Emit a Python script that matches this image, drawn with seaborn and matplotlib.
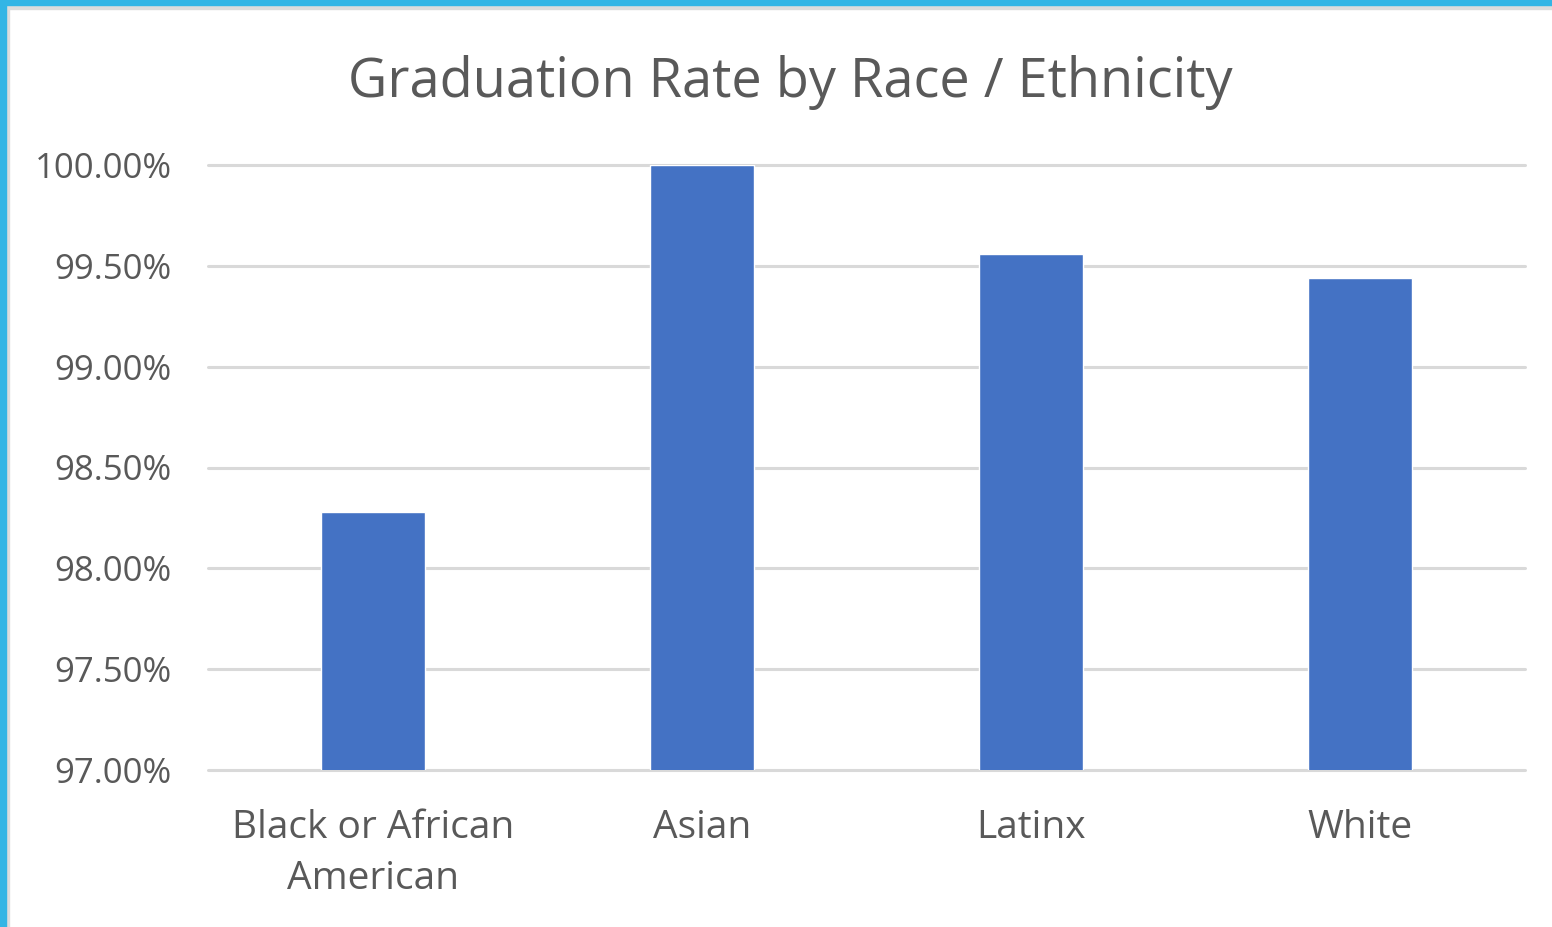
import matplotlib
matplotlib.use("Agg")
import matplotlib.pyplot as plt
import matplotlib.patches as mpatches
from matplotlib.ticker import FuncFormatter
import seaborn as sns
import pandas as pd

categories = ["Black or African\nAmerican", "Asian", "Latinx", "White"]
rates = [98.28, 100.00, 99.56, 99.44]
yticks = [97.0, 97.5, 98.0, 98.5, 99.0, 99.5, 100.0]
title = "Graduation Rate by Race / Ethnicity"

sns.set_theme(style="white")
plt.rcParams['font.family'] = ['Open Sans', 'DejaVu Sans']

df = pd.DataFrame({"cat": categories, "rate": rates})

W, H = 1552, 927
fig = plt.figure(figsize=(W / 100, H / 100), dpi=100)
fig.patch.set_facecolor("white")

ax = fig.add_axes([208 / W, 1 - 770 / H, (1525 - 208) / W, (770 - 165) / H])
sns.barplot(data=df, x="cat", y="rate", color="#4472C4", saturation=1,
            width=0.316, ax=ax, zorder=3)
ax.set_ylim(97.0, 100.0)
ax.set_xlim(-0.5, 3.5)
ax.set_yticks(yticks)
ax.yaxis.set_major_formatter(FuncFormatter(lambda v, p: f"{v:.2f}%"))
ax.grid(axis="y", color="#d9d9d9", linewidth=2.2, zorder=0)
for gl in ax.get_ygridlines():
    gl.set_clip_on(False)
ax.set_axisbelow(True)
for s in ax.spines.values():
    s.set_visible(False)
ax.set_xlabel("")
ax.set_ylabel("")
ax.tick_params(axis="y", length=0, pad=26, labelsize=25, labelcolor="#595959")
ax.tick_params(axis="x", length=0, pad=28, labelsize=28, labelcolor="#595959")
for t in ax.get_yticklabels():
    t.set_horizontalalignment("right")
for t in ax.get_xticklabels():
    t.set_linespacing(1.45)

fig.text(790 / W, 1 - 97 / H, title, ha="center", va="baseline",
         fontsize=39, color="#595959")

# frame: cyan strips on top and left, thin gray inner line
fig.add_artist(mpatches.Rectangle((0, 1 - 5 / H), 1, 5 / H, transform=fig.transFigure,
                                  color="#33B5E5", zorder=10))
fig.add_artist(mpatches.Rectangle((0, 0), 6 / W, 1, transform=fig.transFigure,
                                  color="#33B5E5", zorder=10))
fig.add_artist(mpatches.Rectangle((0, 1 - 9 / H), 1, 3 / H, transform=fig.transFigure,
                                  color="#dcdcdc", zorder=9))
fig.add_artist(mpatches.Rectangle((6 / W, 0), 3 / W, 1, transform=fig.transFigure,
                                  color="#dcdcdc", zorder=9))

fig.savefig("out.png", dpi=100, facecolor="white")
